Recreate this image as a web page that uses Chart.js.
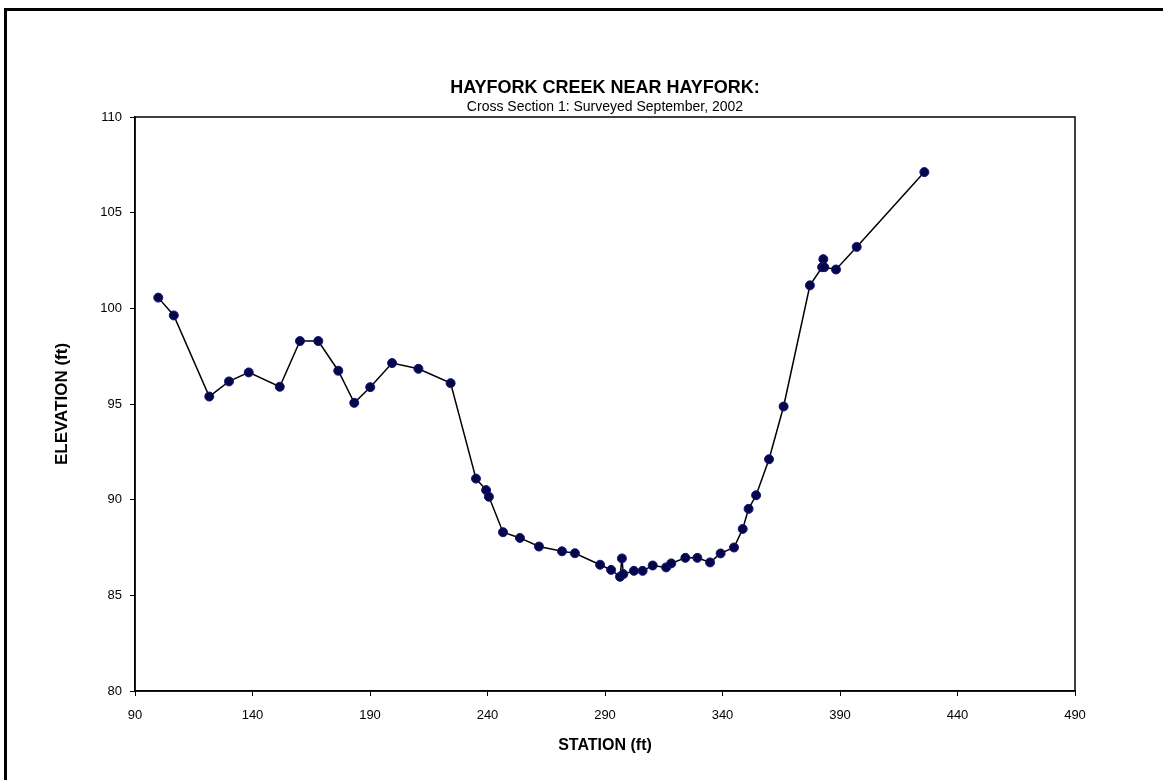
<!DOCTYPE html>
<html>
<head>
<meta charset="utf-8">
<script src="https://cdn.jsdelivr.net/npm/chart.js@4/dist/chart.umd.min.js"></script>
<style>
  html, body { margin: 0; padding: 0; background: #fff; overflow: hidden; }
  #frame { position: absolute; left: 4px; top: 8px; width: 1300px; height: 900px; border: 3px solid #000; }
  #chart { position: absolute; left: 0; top: 0; }
</style>
</head>
<body>
<div id="frame"></div>
<canvas id="chart" width="1163" height="780"></canvas>
<script>
const stations = [99.9, 106.5, 121.6, 130, 138.4, 151.6, 160.2, 168, 176.5, 183.3,
  190.1, 199.4, 210.6, 224.3, 235.1, 239.4, 240.6, 246.6, 253.8, 261.9,
  271.7, 277.2, 287.9, 292.6, 296.4, 297.2, 297.8, 302.3, 306.0, 310.3,
  316.0, 318.2, 324.2, 329.3, 334.7, 339.2, 344.9, 348.6, 351.1, 354.3,
  359.8, 366.0, 377.2, 382.4, 382.9, 383.3, 388.3, 397.1, 425.9];
const elevations = [100.56, 99.63, 95.39, 96.18, 96.65, 95.9, 98.29, 98.29, 96.74, 95.06,
  95.88, 97.14, 96.84, 96.09, 91.1, 90.5, 90.15, 88.3, 88.0, 87.55,
  87.3, 87.2, 86.6, 86.33, 85.97, 86.93, 86.11, 86.28, 86.28, 86.56,
  86.46, 86.67, 86.96, 86.96, 86.72, 87.19, 87.5, 88.47, 89.52, 90.23,
  92.11, 94.87, 101.2, 102.15, 102.57, 102.15, 102.03, 103.21, 107.12];

const xMin = 90, xMax = 490, xStep = 50;
const yMin = 80, yMax = 110, yStep = 5;

const titleText = 'HAYFORK CREEK NEAR HAYFORK:';
const subtitleText = 'Cross Section 1: Surveyed September, 2002';
const xTitle = 'STATION (ft)';
const yTitle = 'ELEVATION (ft)';

const FONT = '"Liberation Sans", Arial, Helvetica, sans-serif';

const points = stations.map((s, i) => ({ x: s, y: elevations[i] }));

// box around the plot area (top and right sides)
const plotFrame = {
  id: 'plotFrame',
  afterDraw(chart) {
    const { ctx, chartArea: a } = chart;
    ctx.save();
    ctx.strokeStyle = '#000';
    ctx.lineWidth = 1.5;
    ctx.strokeRect(a.left, a.top, a.right - a.left, a.bottom - a.top);
    ctx.restore();
  }
};

new Chart(document.getElementById('chart'), {
  type: 'scatter',
  data: {
    datasets: [{
      data: points,
      showLine: true,
      borderColor: '#000',
      borderWidth: 1.5,
      pointRadius: 4.5,
      pointBackgroundColor: '#05054a',
      pointBorderColor: '#14147a',
      pointBorderWidth: 1
    }]
  },
  options: {
    responsive: false,
    animation: false,
    layout: { padding: { left: 0, top: 77, right: 88, bottom: 0 } },
    plugins: {
      legend: { display: false },
      tooltip: { enabled: false },
      title: {
        display: true,
        text: titleText,
        fullSize: false,
        color: '#000',
        font: { family: FONT, size: 18, weight: 'bold' },
        padding: { top: 0, bottom: 0 }
      },
      subtitle: {
        display: true,
        text: subtitleText,
        fullSize: false,
        color: '#000',
        font: { family: FONT, size: 14 },
        padding: { top: 0, bottom: 1.6 }
      }
    },
    scales: {
      x: {
        type: 'linear',
        min: xMin,
        max: xMax,
        afterFit(scale) { scale.height = 89; },
        ticks: {
          stepSize: xStep,
          color: '#000',
          font: { family: FONT, size: 13 },
          padding: 12,
          maxRotation: 0
        },
        grid: { display: true, drawOnChartArea: false, drawTicks: true, tickLength: 5, color: '#000' },
        border: { display: true, color: '#000', width: 1.5 },
        title: {
          display: true,
          text: xTitle,
          color: '#000',
          font: { family: FONT, size: 16, weight: 'bold' },
          padding: { top: 0, bottom: 24.4 }
        }
      },
      y: {
        type: 'linear',
        min: yMin,
        max: yMax,
        afterFit(scale) { scale.width = 135; },
        ticks: {
          stepSize: yStep,
          color: '#000',
          font: { family: FONT, size: 13 },
          padding: 8
        },
        grid: { display: true, drawOnChartArea: false, drawTicks: true, tickLength: 5, color: '#000' },
        border: { display: true, color: '#000', width: 1.5 },
        title: {
          display: true,
          text: yTitle,
          color: '#000',
          font: { family: FONT, size: 17, weight: 'bold' },
          padding: { top: 52, bottom: 0 }
        }
      }
    }
  },
  plugins: [plotFrame]
});
</script>
</body>
</html>
